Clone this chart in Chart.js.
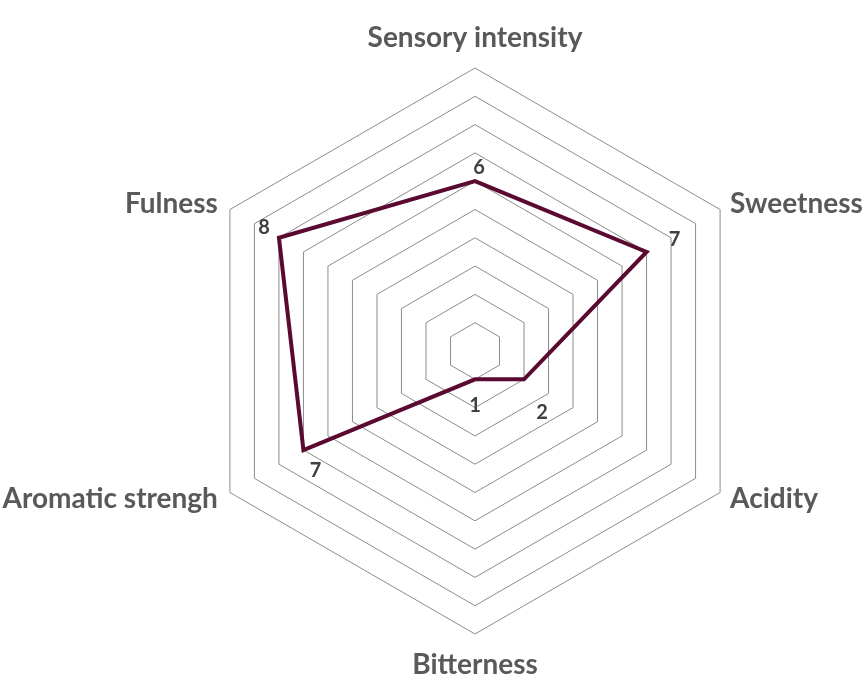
<!DOCTYPE html>
<html>
<head>
<meta charset="utf-8">
<script src="https://cdn.jsdelivr.net/npm/chart.js@4.4.0/dist/chart.umd.min.js"></script>
<style>
html,body{margin:0;padding:0;background:#fff;}
#wrap{width:868px;height:684px;position:relative;}
</style>
</head>
<body>
<div id="wrap"><canvas id="c" width="868" height="684"></canvas></div>
<script>
const categories = ["Sensory intensity", "Sweetness", "Acidity", "Bitterness", "Aromatic strengh", "Fulness"];
const values = [6, 7, 2, 1, 7, 8];
const scaleMin = 0;
const scaleMax = 10;
const scaleStep = 1;

// styling: offsets of value labels from their points
const valueLabelOffsets = [[4,-14],[28,-12],[18,33],[0,26],[12,20],[-15,-10]];
// styling: category label placement relative to the outer ring vertex [dx, dy(baseline), align]
const catLabelPlacement = [[0,-21,'center'],[10,3,'left'],[10,15,'left'],[0,40,'center'],[-12,15,'right'],[-12,3,'right']];

const FONT = 'Lato, "Open Sans", sans-serif';

const labelsPlugin = {
  id: 'labelsPlugin',
  afterDraw(chart) {
    const ctx = chart.ctx;
    const scale = chart.scales.r;
    ctx.save();
    // category labels
    ctx.font = 'bold 28px ' + FONT;
    ctx.fillStyle = '#595959';
    ctx.textBaseline = 'alphabetic';
    categories.forEach((c, i) => {
      const p = scale.getPointPosition(i, scale.drawingArea);
      const pl = catLabelPlacement[i];
      ctx.textAlign = pl[2];
      ctx.fillText(c, p.x + pl[0], p.y + pl[1]);
    });
    // value labels
    const meta = chart.getDatasetMeta(0);
    ctx.font = 'bold 20px ' + FONT;
    ctx.fillStyle = '#404040';
    ctx.textAlign = 'center';
    ctx.textBaseline = 'middle';
    meta.data.forEach((pt, i) => {
      const o = valueLabelOffsets[i];
      ctx.fillText(String(values[i]), pt.x + o[0], pt.y + o[1]);
    });
    ctx.restore();
  }
};

new Chart(document.getElementById('c'), {
  type: 'radar',
  data: {
    labels: categories,
    datasets: [{
      data: values,
      borderColor: '#5A0A30',
      borderWidth: 4,
      fill: false,
      pointRadius: 0,
      pointHoverRadius: 0,
      tension: 0
    }]
  },
  options: {
    responsive: false,
    animation: false,
    devicePixelRatio: 1,
    layout: { padding: { top: 68, bottom: 50, left: 175, right: 93 } },
    plugins: { legend: { display: false }, tooltip: { enabled: false } },
    scales: {
      r: {
        min: scaleMin,
        max: scaleMax,
        ticks: { stepSize: scaleStep, display: false },
        angleLines: { display: false },
        grid: { color: '#8c8c8c', lineWidth: 1 },
        pointLabels: { display: false }
      }
    }
  },
  plugins: [labelsPlugin]
});
</script>
</body>
</html>
